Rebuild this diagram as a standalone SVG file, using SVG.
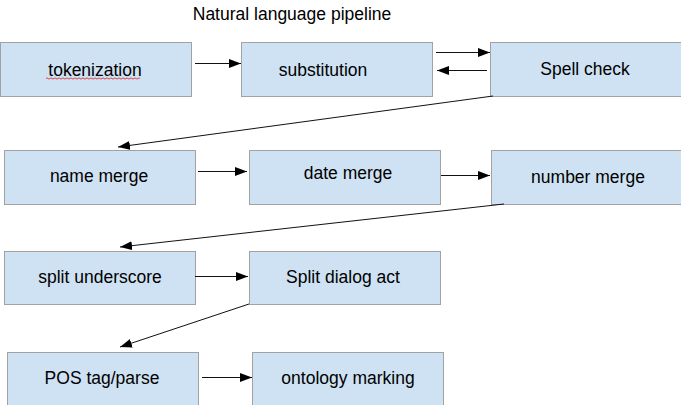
<svg xmlns="http://www.w3.org/2000/svg" width="681" height="405" viewBox="0 0 681 405">
<style>
  .box { fill: #cfe2f3; stroke: #a2a2a2; stroke-width: 1; }
  .lbl { font-family: "Liberation Sans", Arial, sans-serif; font-size: 17.5px; fill: #000; text-anchor: middle; }
  .conn { stroke: #111; stroke-width: 1; fill: none; marker-end: url(#arrow); }
</style>
<defs>
  <marker id="arrow" markerUnits="userSpaceOnUse" markerWidth="13" markerHeight="10" refX="12" refY="4.5" orient="auto">
    <path d="M0,0 L12,4.5 L0,9 z" fill="#000"/>
  </marker>
</defs>
<rect width="681" height="405" fill="#fff"/>
<text class="lbl" x="292" y="20">Natural language pipeline</text>

<g id="tokenization">
  <rect class="box" x="0.5" y="42.5" width="191" height="54"/>
  <text class="lbl" x="95" y="76">tokenization</text>
  <path d="M46,78.5 q1,-1.2 2,0 t2,0 t2,0 t2,0 t2,0 t2,0 t2,0 t2,0 t2,0 t2,0 t2,0 t2,0 t2,0 t2,0 t2,0 t2,0 t2,0 t2,0 t2,0 t2,0 t2,0 t2,0 t2,0 t2,0 t2,0 t2,0 t2,0 t2,0 t2,0 t2,0 t2,0 t2,0 t2,0 t2,0 t2,0 t2,0 t2,0 t2,0 t2,0 t2,0 t2,0 t2,0 t2,0 t2,0 t2,0 t2,0 t2,0" fill="none" stroke="#e02020" stroke-width="0.8"/>
</g>
<g id="substitution">
  <rect class="box" x="241.5" y="42.5" width="191" height="54"/>
  <text class="lbl" x="323" y="76">substitution</text>
</g>
<g id="spell-check">
  <rect class="box" x="490.5" y="42.5" width="195" height="54"/>
  <text class="lbl" x="585" y="75">Spell check</text>
</g>
<g id="name-merge">
  <rect class="box" x="4.5" y="150.5" width="191" height="54"/>
  <text class="lbl" x="99" y="182">name merge</text>
</g>
<g id="date-merge">
  <rect class="box" x="249.5" y="150.5" width="191" height="54"/>
  <text class="lbl" x="348" y="179">date merge</text>
</g>
<g id="number-merge">
  <rect class="box" x="491.5" y="150.5" width="195" height="54"/>
  <text class="lbl" x="588" y="182.5">number merge</text>
</g>
<g id="split-underscore">
  <rect class="box" x="4.5" y="251.5" width="191" height="53"/>
  <text class="lbl" x="100" y="283">split underscore</text>
</g>
<g id="split-dialog-act">
  <rect class="box" x="249.5" y="251.5" width="191" height="53"/>
  <text class="lbl" x="343" y="283">Split dialog act</text>
</g>
<g id="pos-tag-parse">
  <rect class="box" x="7.5" y="352.5" width="191" height="60"/>
  <text class="lbl" x="102" y="384">POS tag/parse</text>
</g>
<g id="ontology-marking">
  <rect class="box" x="252.5" y="352.5" width="191" height="60"/>
  <text class="lbl" x="348" y="384">ontology marking</text>
</g>

<g id="connectors">
  <line class="conn" x1="195" y1="63.5" x2="241" y2="63.5"/>
  <line class="conn" x1="436" y1="52.5" x2="490" y2="52.5"/>
  <line class="conn" x1="487" y1="70.5" x2="437" y2="70.5"/>
  <line class="conn" x1="493" y1="96" x2="118" y2="147"/>
  <line class="conn" x1="198" y1="171.5" x2="247" y2="171.5"/>
  <line class="conn" x1="441" y1="175.5" x2="490" y2="175.5"/>
  <line class="conn" x1="504" y1="204" x2="120" y2="247"/>
  <line class="conn" x1="195" y1="276.5" x2="248" y2="276.5"/>
  <line class="conn" x1="249" y1="304" x2="120" y2="347"/>
  <line class="conn" x1="202" y1="377.5" x2="252" y2="377.5"/>
</g>
</svg>
